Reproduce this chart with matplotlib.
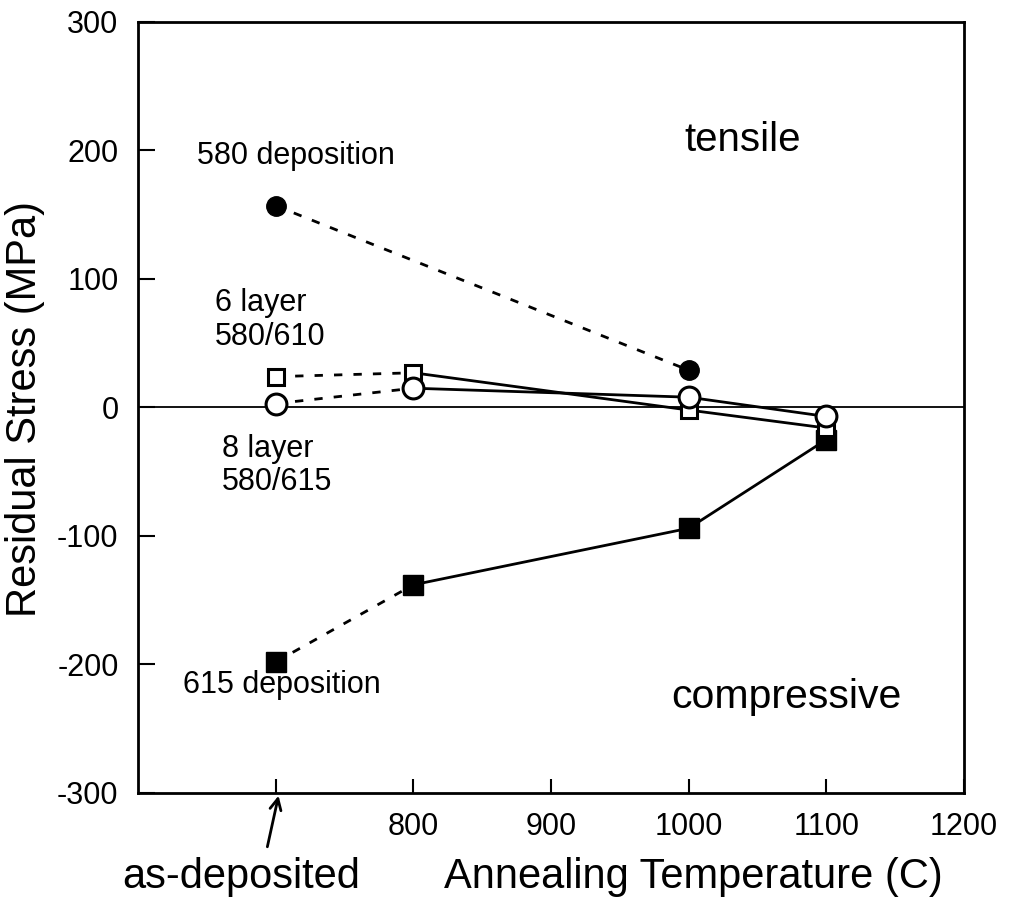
import matplotlib
matplotlib.use("Agg")
import matplotlib.pyplot as plt

plt.rcParams['font.family'] = ['Liberation Sans', 'DejaVu Sans']
plt.rcParams['axes.unicode_minus'] = False

# Data
temps_580 = [700, 1000]
stress_580 = [157, 29]

temps_ml = [700, 800, 1000, 1100]
stress_6layer = [24, 27, -2, -16]
stress_8layer = [3, 15, 8, -7]
stress_615 = [-198, -138, -94, -25]

xtick_vals = [700, 800, 900, 1000, 1100, 1200]
xtick_labels = ['', '800', '900', '1000', '1100', '1200']
ytick_vals = [-300, -200, -100, 0, 100, 200, 300]

fig = plt.figure(figsize=(10.12, 9.01), dpi=100)
ax = fig.add_axes([0.1364, 0.1199, 0.8162, 0.8557])

# zero line
ax.axhline(0, color='black', lw=1.3, zorder=1)

dash = (0, (3, 4))

# 580 deposition: filled circles, dashed
ax.plot(temps_580, stress_580, color='black', lw=2, ls=dash, zorder=2)
ax.plot(temps_580, stress_580, 'o', color='black', ms=14, zorder=4)

# 6 layer 580/610: open squares
ax.plot(temps_ml[:2], stress_6layer[:2], color='black', lw=2, ls=dash, zorder=2)
ax.plot(temps_ml[1:], stress_6layer[1:], color='black', lw=2, zorder=2)
ax.plot(temps_ml, stress_6layer, 's', mfc='white', mec='black', mew=2.2, ms=12, zorder=4)

# 8 layer 580/615: open circles
ax.plot(temps_ml[:2], stress_8layer[:2], color='black', lw=2, ls=dash, zorder=2)
ax.plot(temps_ml[1:], stress_8layer[1:], color='black', lw=2, zorder=2)
ax.plot(temps_ml, stress_8layer, 'o', mfc='white', mec='black', mew=2.2, ms=15, zorder=5)

# 615 deposition: filled squares
ax.plot(temps_ml[:2], stress_615[:2], color='black', lw=2, ls=dash, zorder=2)
ax.plot(temps_ml[1:], stress_615[1:], color='black', lw=2, zorder=2)
ax.plot(temps_ml, stress_615, 's', color='black', ms=14, zorder=3)

ax.set_xlim(600, 1200)
ax.set_ylim(-300, 300)
ax.set_xticks(xtick_vals, xtick_labels)
ax.set_yticks(ytick_vals)
ax.tick_params(axis='x', direction='in', length=10, width=1.5, labelsize=22, pad=14)
ax.tick_params(axis='y', direction='in', length=12, width=1.5, labelsize=22, pad=14)
for sp in ax.spines.values():
    sp.set_linewidth(2)

# annotations
ax.text(643, 196, '580 deposition', fontsize=22, va='center')
ax.text(656, 68, '6 layer\n580/610', fontsize=22, va='center', linespacing=1.15)
ax.text(661, -45, '8 layer\n580/615', fontsize=22, va='center', linespacing=1.15)
ax.text(633, -216, '615 deposition', fontsize=22, va='center')
ax.text(997, 208, 'tensile', fontsize=29, va='center')
ax.text(987, -225, 'compressive', fontsize=29.5, va='center')

ax.annotate('', xy=(702.5, -300), xytext=(693.5, -344),
            arrowprops=dict(arrowstyle='->', lw=2, color='black', mutation_scale=20),
            annotation_clip=False)

fig.text(0.1206, 0.0266, 'as-deposited', fontsize=30, va='center', ha='left')
fig.text(0.4387, 0.0266, 'Annealing Temperature (C)', fontsize=30, va='center', ha='left')
fig.text(0.025, 0.546, 'Residual Stress (MPa)', fontsize=30, va='center', ha='center',
         rotation=90)

fig.savefig('out.png', dpi=100)
